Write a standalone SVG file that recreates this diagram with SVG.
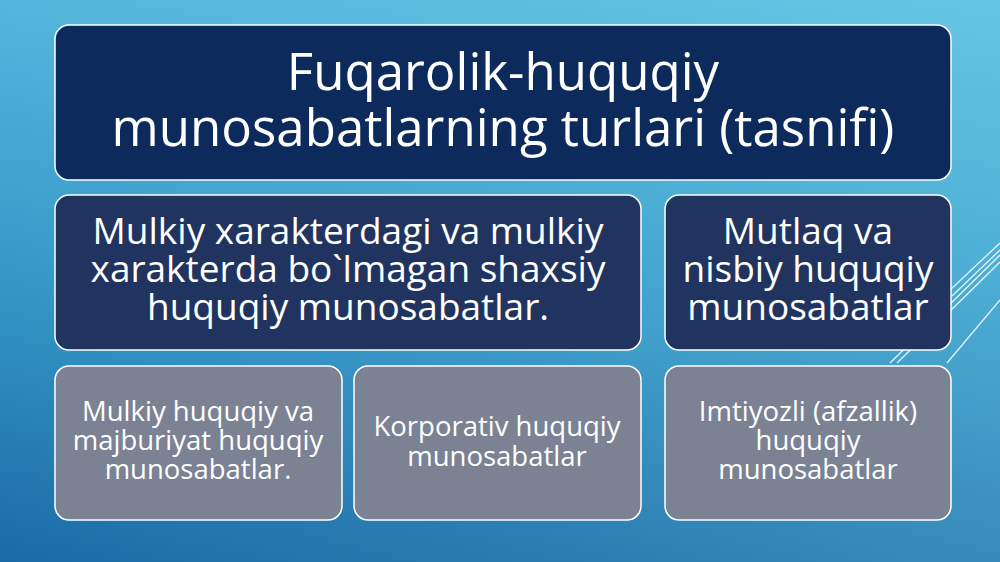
<svg xmlns="http://www.w3.org/2000/svg" width="1000" height="562" viewBox="0 0 1000 562">
<defs>
<linearGradient id="bg" x1="0" y1="0" x2="0" y2="1">
<stop offset="0" stop-color="#55b6dc"/>
<stop offset="0.5" stop-color="#3597c8"/>
<stop offset="1" stop-color="#1a6aa6"/>
</linearGradient>
<linearGradient id="bgh" x1="0" y1="0" x2="1" y2="0">
<stop offset="0" stop-color="#a0ffff" stop-opacity="0"/>
<stop offset="1" stop-color="#a0ffff" stop-opacity="0.22"/>
</linearGradient>
<style>
.box{stroke:#ffffff;stroke-width:1.5}
.dark{fill:#0c2b5c}
.mid{fill:#20345f}
.gray{fill:#7b8294}
.t{font-family:"Open Sans","Noto Sans",sans-serif;fill:#ffffff;text-anchor:middle}
.deco{stroke:#ffffff;stroke-width:1.3;fill:none;opacity:0.85}
</style>
</defs>
<rect width="1000" height="562" fill="url(#bg)"/>
<rect width="1000" height="562" fill="url(#bgh)"/>
<g id="decor">
<line class="deco" x1="890" y1="363" x2="1000" y2="255"/>
<line class="deco" x1="897" y1="363" x2="1000" y2="262"/>
<line class="deco" x1="947" y1="363" x2="1000" y2="300"/>
<line class="deco" x1="950" y1="290" x2="1000" y2="243"/>
<line class="deco" x1="952" y1="296" x2="1000" y2="250"/>
</g>
<g id="title">
<rect class="box dark" x="55" y="25" width="896" height="155" rx="14"/>
<text class="t" font-size="51"><tspan x="503" y="90">Fuqarolik-huquqiy</tspan><tspan x="503" y="146">munosabatlarning turlari (tasnifi)</tspan></text>
</g>
<g id="mulkiy">
<rect class="box mid" x="55" y="195" width="586" height="155" rx="14"/>
<text class="t" font-size="37"><tspan x="348" y="244">Mulkiy xarakterdagi va mulkiy</tspan><tspan x="348" y="282">xarakterda bo`lmagan shaxsiy</tspan><tspan x="348" y="320">huquqiy munosabatlar.</tspan></text>
</g>
<g id="mutlaq">
<rect class="box mid" x="665" y="195" width="286" height="155" rx="14"/>
<text class="t" font-size="37"><tspan x="808" y="244">Mutlaq va</tspan><tspan x="808" y="282">nisbiy huquqiy</tspan><tspan x="808" y="320">munosabatlar</tspan></text>
</g>
<g id="mulkiy-huquqiy">
<rect class="box gray" x="55" y="366" width="287" height="154" rx="14"/>
<text class="t" font-size="27.5"><tspan x="198" y="421">Mulkiy huquqiy va</tspan><tspan x="198" y="450">majburiyat huquqiy</tspan><tspan x="198" y="479">munosabatlar.</tspan></text>
</g>
<g id="korporativ">
<rect class="box gray" x="354" y="366" width="287" height="154" rx="14"/>
<text class="t" font-size="27.5"><tspan x="497" y="436">Korporativ huquqiy</tspan><tspan x="497" y="466">munosabatlar</tspan></text>
</g>
<g id="imtiyozli">
<rect class="box gray" x="665" y="366" width="286" height="154" rx="14"/>
<text class="t" font-size="27.5"><tspan x="808" y="421">Imtiyozli (afzallik)</tspan><tspan x="808" y="450">huquqiy</tspan><tspan x="808" y="479">munosabatlar</tspan></text>
</g>
<g id="connectors"/>
</svg>
